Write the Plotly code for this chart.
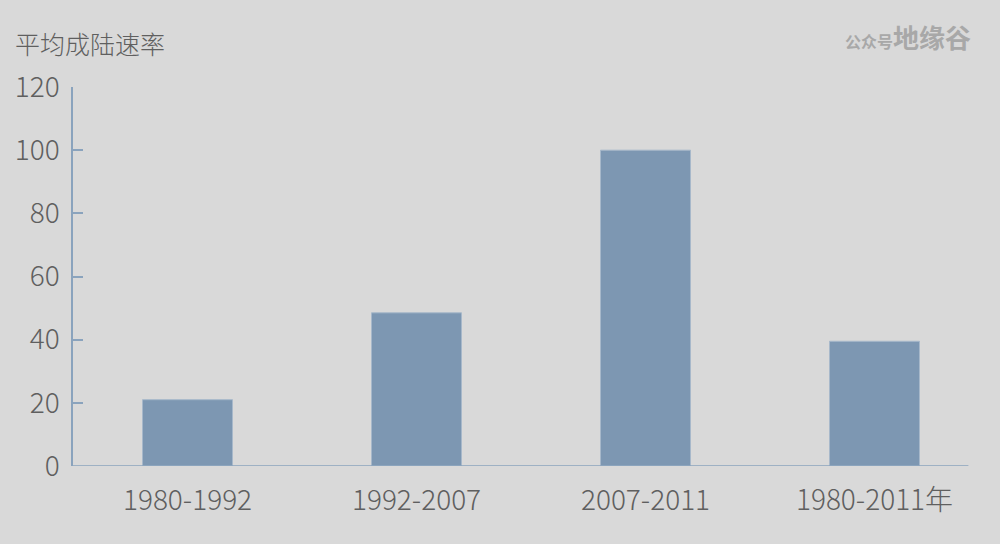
import plotly.graph_objects as go

categories = ["1980-1992", "1992-2007", "2007-2011", "1980-2011年"]
values = [21, 48.5, 100, 39.5]
y_ticks = [0, 20, 40, 60, 80, 100, 120]

bg = "#d9d9d9"
bar_color = "#7d97b2"
axis_color = "#8aa3bd"
text_color = "#5f5f5f"
font_family = "Noto Sans CJK SC, Noto Sans, sans-serif"

fig = go.Figure()
fig.add_trace(go.Bar(
    x=categories, y=values,
    marker=dict(color=bar_color, line=dict(color="#a7b8ca", width=1)),
))

fig.add_shape(type="line", xref="x", yref="y", x0=-0.5, x1=3.41, y0=0, y1=0,
              line=dict(color=axis_color, width=1.5))

fig.update_layout(
    width=1000, height=544,
    paper_bgcolor=bg, plot_bgcolor=bg,
    margin=dict(l=73, r=11, t=87, b=78),
    bargap=0.607,
    showlegend=False,
    font=dict(family=font_family, color=text_color, weight=300),
    xaxis=dict(
        type="category", range=[-0.5, 3.5],
        showline=False, showgrid=False, zeroline=False, ticks="",
        tickfont=dict(size=28, color=text_color, family=font_family, weight=300),
        ticklabelstandoff=15,
    ),
    yaxis=dict(
        range=[0, 120], tickvals=y_ticks,
        showline=True, linecolor=axis_color, linewidth=1.5,
        ticks="inside", ticklen=10, tickcolor=axis_color, tickwidth=1.5,
        showgrid=False, zeroline=False,
        tickfont=dict(size=28, color=text_color, family=font_family, weight=300),
        ticklabelstandoff=6,
    ),
    annotations=[
        dict(text="平均成陆速率", xref="paper", yref="paper", x=-0.065, y=1.0,
             xanchor="left", yanchor="bottom", yshift=24, showarrow=False,
             font=dict(size=25, color=text_color, family=font_family, weight=300)),
        dict(text="<b><span style='font-size:16px'>公众号</span>地缘谷</b>",
             xref="paper", yref="paper", x=0.982, y=1.0, xanchor="right",
             yanchor="bottom", yshift=30, showarrow=False,
             font=dict(size=26, color="#a8a8a8", family=font_family)),
    ],
)

fig.write_html("out.html", config={"displayModeBar": False},
               post_script="document.body.style.margin='0';document.body.style.background='#d9d9d9';")
